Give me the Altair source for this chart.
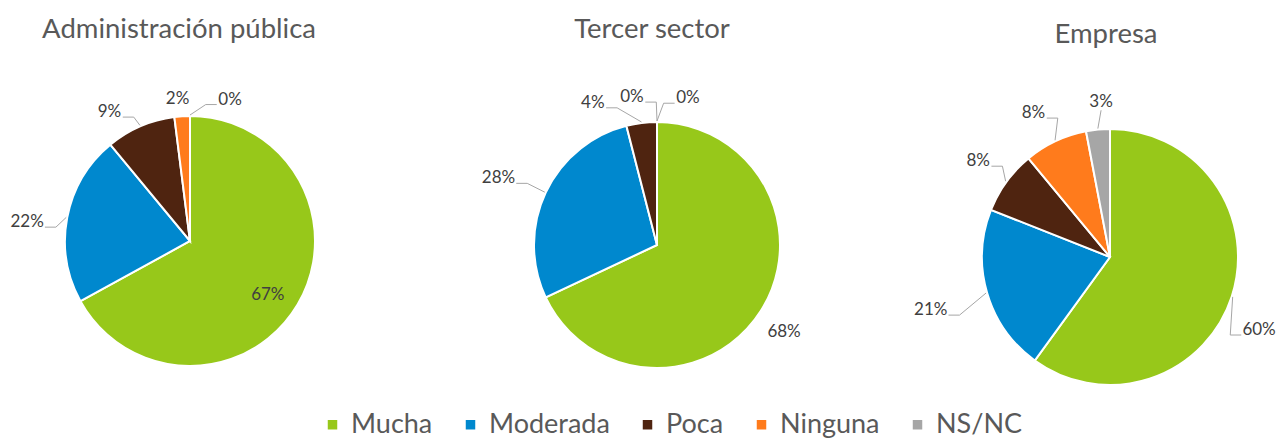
import math
import altair as alt
import pandas as pd

# ---------------- data ----------------
categories = ["Mucha", "Moderada", "Poca", "Ninguna", "NS/NC"]
sectors = ["Administración pública", "Tercer sector", "Empresa"]
admin_publica = [67, 22, 9, 2, 0]
tercer_sector = [68, 28, 4, 0, 0]
empresa = [60, 21, 8, 8, 3]
series = [admin_publica, tercer_sector, empresa]

# ---------------- styles / layout ----------------
colors = ["#97C81A", "#0088CE", "#4F2410", "#FF7B1C", "#A6A6A6"]
FONT = "Lato"
W, H = 1268, 431
pies = [
    dict(cx=182, cy=233, r=125, tx=171, ty=30),
    dict(cx=649, cy=237, r=123, tx=644, ty=30),
    dict(cx=1102, cy=249, r=128, tx=1098, ty=35),
]
# per-slice label placement: (angle nudge in degrees, label radius px, draw leader)
label_style = [
    [(4.4, 95, False), (-4.2, 164, True), (-8.6, 152, True), (-1.4, 143, False), (15.8, 147, True)],
    [(2.0, 154, False), (-2.4, 172, True), (-17.1, 156, True), (-9.6, 150, True), (11.9, 150, True)],
    [(8.1, 166, True), (-0.3, 187, True), (0.0, 163, True), (-2.8, 163, True), (2.1, 155, True)],
]
LABEL_SIZE = 17

xs = alt.Scale(domain=[0, W], range=[0, W], nice=False, zero=False)
ys = alt.Scale(domain=[0, H], range=[0, H], nice=False, zero=False)

color_enc = alt.Color(
    "category:N",
    scale=alt.Scale(domain=categories, range=colors),
    sort=categories,
    legend=alt.Legend(
        title=None,
        orient="none",
        legendX=311,
        legendY=403,
        direction="horizontal",
        symbolType="square",
        symbolSize=90,
        symbolStrokeWidth=0,
        labelFont=FONT,
        labelFontSize=27,
        labelColor="#595959",
        labelOffset=5,
        columnPadding=24,
        padding=0,
    ),
)

layers = []
label_rows = []
leader_rows = []
title_rows = []

for i, (name, vals) in enumerate(zip(sectors, series)):
    p = pies[i]
    total = float(sum(vals))
    df = pd.DataFrame({"category": categories, "value": vals, "idx": list(range(len(vals))), "sector": name})
    arc = alt.Chart(df).mark_arc(
        outerRadius=p["r"], stroke="white", strokeWidth=2
    ).encode(
        theta=alt.Theta("value:Q", stack="normalize"),
        order=alt.Order("idx:Q"),
        color=color_enc,
        x=alt.value(p["cx"]),
        y=alt.value(p["cy"]),
    )
    layers.append(arc)
    title_rows.append({"title": name, "tx": p["tx"], "ty": p["ty"]})

    cum = 0.0
    for j, v in enumerate(vals):
        mid = (cum + v / 2.0) / total * 360.0
        cum += v
        da, rr, lead = label_style[i][j]
        a = math.radians(mid + da)
        lx = p["cx"] + rr * math.sin(a)
        ly = p["cy"] - rr * math.cos(a)
        txt = f"{v}%"
        label_rows.append({"label": txt, "lx": lx, "ly": ly})
        if lead:
            e = math.radians(mid)
            ex = p["cx"] + (p["r"] + 1) * math.sin(e)
            ey = p["cy"] - (p["r"] + 1) * math.cos(e)
            hw = (0.53 * LABEL_SIZE * (len(txt) - 1) + 0.8 * LABEL_SIZE) / 2.0
            lid = f"{i}-{j}"
            if lx - hw <= ex <= lx + hw:
                pts = [(lx, ly + 8), (ex, ey)]
            elif lx < ex:
                sx = lx + hw + 2
                pts = [(sx, ly + 5), (sx + 11, ly + 5), (ex, ey)]
            else:
                sx = lx - hw - 2
                pts = [(sx, ly + 5), (sx - 11, ly + 5), (ex, ey)]
            for k, (px, py) in enumerate(pts):
                leader_rows.append({"id": lid, "ord": k, "px": px, "py": py})

labels_df = pd.DataFrame(label_rows)
leaders_df = pd.DataFrame(leader_rows)
titles_df = pd.DataFrame(title_rows)

leaders = alt.Chart(leaders_df).mark_line(color="#A6A6A6", strokeWidth=1).encode(
    x=alt.X("px:Q", scale=xs, axis=None),
    y=alt.Y("py:Q", scale=ys, axis=None),
    detail="id:N",
    order="ord:Q",
)
labels = alt.Chart(labels_df).mark_text(
    font=FONT, fontSize=LABEL_SIZE, color="#404040", align="center", baseline="middle"
).encode(
    x=alt.X("lx:Q", scale=xs, axis=None),
    y=alt.Y("ly:Q", scale=ys, axis=None),
    text="label:N",
)
titles = alt.Chart(titles_df).mark_text(
    font=FONT, fontSize=27.5, color="#595959", align="center", baseline="alphabetic"
).encode(
    x=alt.X("tx:Q", scale=xs, axis=None),
    y=alt.Y("ty:Q", scale=ys, axis=None),
    text="title:N",
)

chart = alt.layer(*layers, leaders, labels, titles).properties(
    width=W,
    height=H,
    autosize=alt.AutoSizeParams(type="none"),
    padding=0,
).configure_view(stroke=None)

chart.save("out.html", embed_options={"renderer": "svg", "actions": False})
